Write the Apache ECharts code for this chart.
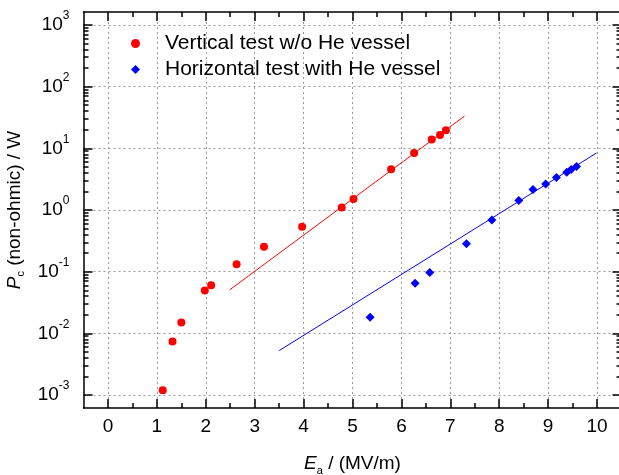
<!DOCTYPE html>
<html>
<head>
<meta charset="utf-8">
<script src="https://cdn.jsdelivr.net/npm/echarts@6/dist/echarts.min.js"></script>
<style>
  html, body { margin: 0; padding: 0; background: #fff; }
  #chart { width: 619px; height: 475px; }
</style>
</head>
<body>
<div id="chart"></div>
<script>
// vertical test, no He vessel
const vertE = [1.12, 1.32, 1.50, 1.98, 2.11, 2.63, 3.19, 3.97, 4.78, 5.02, 5.79, 6.26, 6.62, 6.79, 6.91]
const vertP = [0.0012, 0.0074, 0.015, 0.0495, 0.060, 0.132, 0.254, 0.536, 1.10, 1.51, 4.57, 8.4, 13.9, 16.5, 19.7]
// horizontal test with He vessel
const horE = [5.36, 6.28, 6.58, 7.33, 7.85, 8.40, 8.69, 8.95, 9.17, 9.38, 9.47, 9.58]
const horP = [0.0182, 0.065, 0.097, 0.284, 0.687, 1.42, 2.14, 2.64, 3.35, 4.1, 4.53, 5.06]
// fitted lines (end points)
const vertFitE = [2.49, 7.29]
const vertFitP = [0.0508, 33.3]
const horFitE = [3.50, 9.99]
const horFitP = [0.00525, 8.41]

const xMajor = [0, 1, 2, 3, 4, 5, 6, 7, 8, 9, 10]
const xMinor = [0.5, 1.5, 2.5, 3.5, 4.5, 5.5, 6.5, 7.5, 8.5, 9.5]
const yMajor = [1e-3, 1e-2, 1e-1, 1, 10, 100, 1000]
const yMinor = []
for (let d = -3; d < 3; d++) {
  for (let k = 2; k <= 9; k++) yMinor.push(+(k * Math.pow(10, d)).toPrecision(3))
}

const FONT = 'Liberation Sans'
const black = '#000'
const grid = { left: 83.5, top: 12, width: 538, height: 396, outerBoundsMode: 'none', containLabel: false }

const zip = (a, b) => a.map((v, i) => [v, b[i]])

function xAxis(pos, ticks, len, opts) {
  return Object.assign({
    type: 'value', position: pos, min: -0.5, max: 10.5,
    axisLine: { show: false, onZero: false },
    axisTick: { show: true, inside: true, length: len, customValues: ticks, lineStyle: { color: black, width: 1.5 } },
    axisLabel: { show: false },
    splitLine: { show: false },
  }, opts)
}
function yAxis(pos, ticks, len, opts) {
  return Object.assign({
    type: 'log', position: pos, min: Math.pow(10, -3.21), max: Math.pow(10, 3.21), logBase: 10,
    axisLine: { show: false, onZero: false },
    axisTick: { show: true, inside: true, length: len, customValues: ticks, lineStyle: { color: black, width: 1.5 } },
    axisLabel: { show: false },
    splitLine: { show: false },
  }, opts)
}

const gridLine = { show: true, lineStyle: { color: '#9a9a9a', type: [2, 3], width: 1 } }
const nameRich = {
  i: { fontFamily: FONT, fontSize: 19, fontStyle: 'italic', color: black, lineHeight: 24, verticalAlign: 'middle' },
  sub: { fontFamily: FONT, fontSize: 11, color: black, lineHeight: 11, verticalAlign: 'bottom' },
  n: { fontFamily: FONT, fontSize: 19, color: black, lineHeight: 24, verticalAlign: 'middle' },
}

const option = {
  animation: false,
  grid,
  legend: {
    orient: 'vertical', left: 126, top: 28,
    itemWidth: 9, itemHeight: 9, itemGap: 5,
    textStyle: { fontFamily: FONT, fontSize: 21, color: black, padding: [0, 0, 0, 20] },
    data: [
      { name: 'Vertical test w/o He vessel', icon: 'circle' },
      { name: 'Horizontal test with He vessel', icon: 'diamond' },
    ],
  },
  xAxis: [
    xAxis('bottom', xMajor, 9, {
      axisLine: { show: true, onZero: false, lineStyle: { color: black, width: 1.5 } },
      axisLabel: { show: true, customValues: xMajor, margin: 9, fontFamily: FONT, fontSize: 19, color: black },
      splitLine: gridLine,
      name: '{i|E}{sub|a}{n| / (MV/m)}',
      nameLocation: 'middle', nameGap: 44,
      nameTextStyle: { rich: nameRich },
    }),
    xAxis('bottom', xMinor, 5),
    xAxis('top', xMajor, 9, { axisLine: { show: true, onZero: false, lineStyle: { color: black, width: 1.5 } } }),
    xAxis('top', xMinor, 5),
  ],
  yAxis: [
    yAxis('left', yMajor, 9, {
      axisLine: { show: true, onZero: false, lineStyle: { color: black, width: 1.5 } },
      axisLabel: {
        show: true, customValues: yMajor, margin: 14,
        formatter: (v) => '{b|10}{s|' + Math.round(Math.log10(v)) + '}',
        rich: {
          b: { fontFamily: FONT, fontSize: 19, color: black, lineHeight: 30, verticalAlign: 'middle' },
          s: { fontFamily: FONT, fontSize: 12, color: black, lineHeight: 12, verticalAlign: 'top' },
        },
      },
      splitLine: gridLine,
      name: '{i|P}{sub|c}{n| (non-ohmic) / W}',
      nameLocation: 'middle', nameGap: 53, nameRotate: 90,
      nameTextStyle: { rich: nameRich },
    }),
    yAxis('left', yMinor, 5),
    yAxis('right', yMajor, 9, { axisLine: { show: true, onZero: false, lineStyle: { color: black, width: 1.5 } } }),
    yAxis('right', yMinor, 5),
  ],
  series: [
    {
      name: 'Vertical test w/o He vessel', type: 'scatter', symbol: 'circle', symbolSize: 8,
      itemStyle: { color: '#ff0000', opacity: 1 }, data: zip(vertE, vertP), z: 5,
    },
    {
      name: 'Horizontal test with He vessel', type: 'scatter', symbol: 'diamond', symbolSize: 9,
      itemStyle: { color: '#0000ff', opacity: 1 }, data: zip(horE, horP), z: 5,
    },
    {
      type: 'line', data: zip(vertFitE, vertFitP), symbol: 'none',
      lineStyle: { color: '#ff0000', width: 1 }, z: 3,
    },
    {
      type: 'line', data: zip(horFitE, horFitP), symbol: 'none',
      lineStyle: { color: '#0000ff', width: 1 }, z: 3,
    },
  ],
}

const chart = echarts.init(document.getElementById('chart'))
chart.setOption(option)
</script>
</body>
</html>
